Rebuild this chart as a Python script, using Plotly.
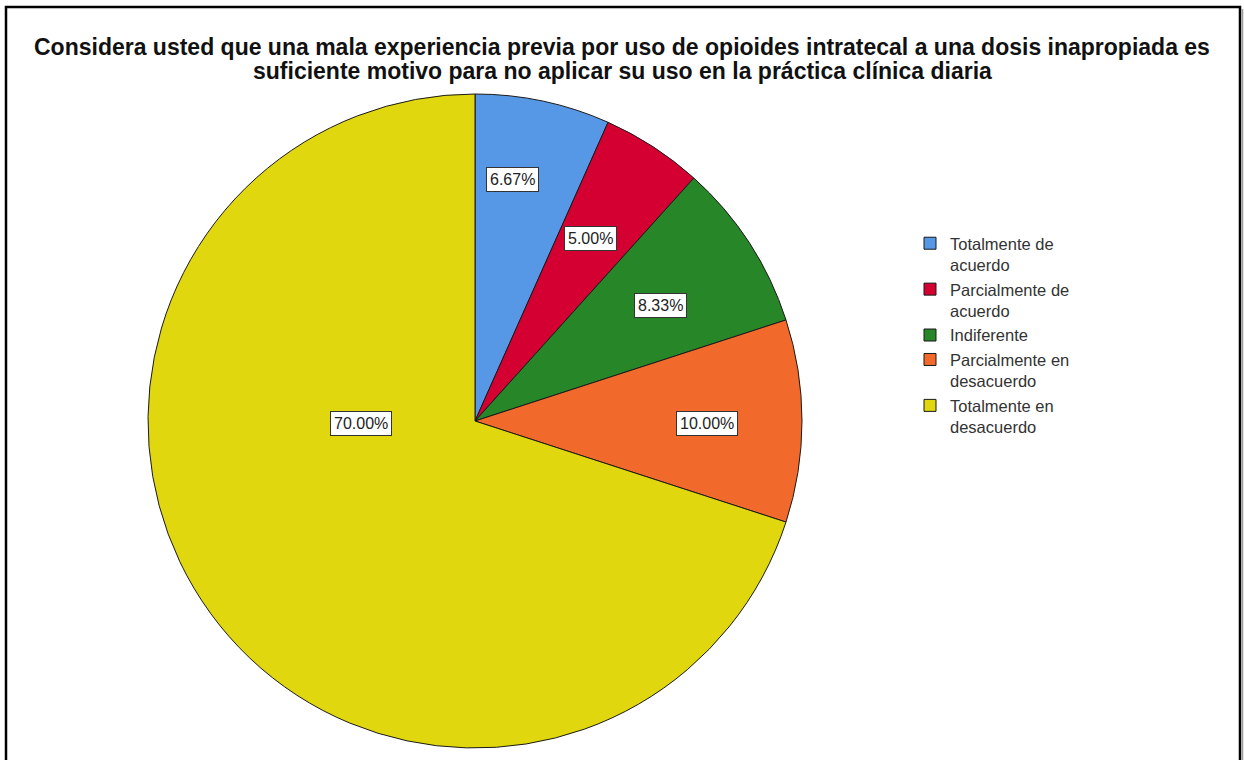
import plotly.graph_objects as go

W, H = 1244, 760

categories = ["Totalmente de acuerdo", "Parcialmente de acuerdo", "Indiferente",
              "Parcialmente en desacuerdo", "Totalmente en desacuerdo"]
legend_labels = ["Totalmente de<br>acuerdo", "Parcialmente de<br>acuerdo", "Indiferente",
                 "Parcialmente en<br>desacuerdo", "Totalmente en<br>desacuerdo"]
values = [6.67, 5.00, 8.33, 10.00, 70.00]
colors = ["#5698E6", "#D50032", "#278627", "#F2692C", "#E1D70F"]

title_lines = ["Considera usted que una mala experiencia previa por uso de opioides intratecal a una dosis inapropiada es",
               "suficiente motivo para no aplicar su uso en la práctica clínica diaria"]

# label anchor positions in pixels (layout, not data)
label_px = [(512, 179), (590, 239), (660, 305), (707, 424), (361, 424)]

def px(x):
    return x / W

def py(y):
    return 1 - y / H

cx, cy, R = 475, 421, 327

fig = go.Figure(go.Pie(
    labels=legend_labels,
    values=values,
    sort=False,
    direction="clockwise",
    rotation=0,
    textinfo="none",
    hoverinfo="label+percent",
    marker=dict(colors=colors, line=dict(color="#1a1a1a", width=1)),
    domain=dict(x=[px(cx - R), px(cx + R)], y=[py(cy + R), py(cy - R)]),
))

annotations = []
for v, (lx, ly) in zip(values, label_px):
    annotations.append(dict(
        x=px(lx), y=py(ly), xref="paper", yref="paper",
        text=f"{v:.2f}%", showarrow=False,
        font=dict(family="Liberation Sans, Arial, sans-serif", size=16, color="#222"),
        bgcolor="white", bordercolor="#333", borderwidth=1, borderpad=3,
        xanchor="center", yanchor="middle",
    ))

for i, (t, y) in enumerate(zip(title_lines, [47, 71])):
    annotations.append(dict(
        x=px(622), y=py(y), xref="paper", yref="paper",
        text=f"<b>{t}</b>", showarrow=False,
        font=dict(family="Liberation Sans, Arial, sans-serif", size=23, color="#111"),
        xanchor="center", yanchor="middle",
    ))

fig.update_layout(
    width=W, height=H,
    margin=dict(l=0, r=0, t=0, b=0),
    paper_bgcolor="white",
    plot_bgcolor="white",
    showlegend=True,
    legend=dict(
        x=px(910), y=py(226), xanchor="left", yanchor="top",
        font=dict(family="Liberation Sans, Arial, sans-serif", size=16.5, color="#333"),
        valign="top",
        traceorder="normal",
        itemclick=False,
    ),
    annotations=annotations,
    shapes=[dict(type="rect", xref="paper", yref="paper",
                 x0=px(6), x1=px(1240), y0=-0.05, y1=py(7),
                 line=dict(color="black", width=2.5), fillcolor="rgba(0,0,0,0)"),
            dict(type="line", xref="paper", yref="paper",
                 x0=px(1242.5), x1=px(1242.5), y0=-0.05, y1=py(9),
                 line=dict(color="#999", width=1.5))],
)

fig.write_html("out.html")
